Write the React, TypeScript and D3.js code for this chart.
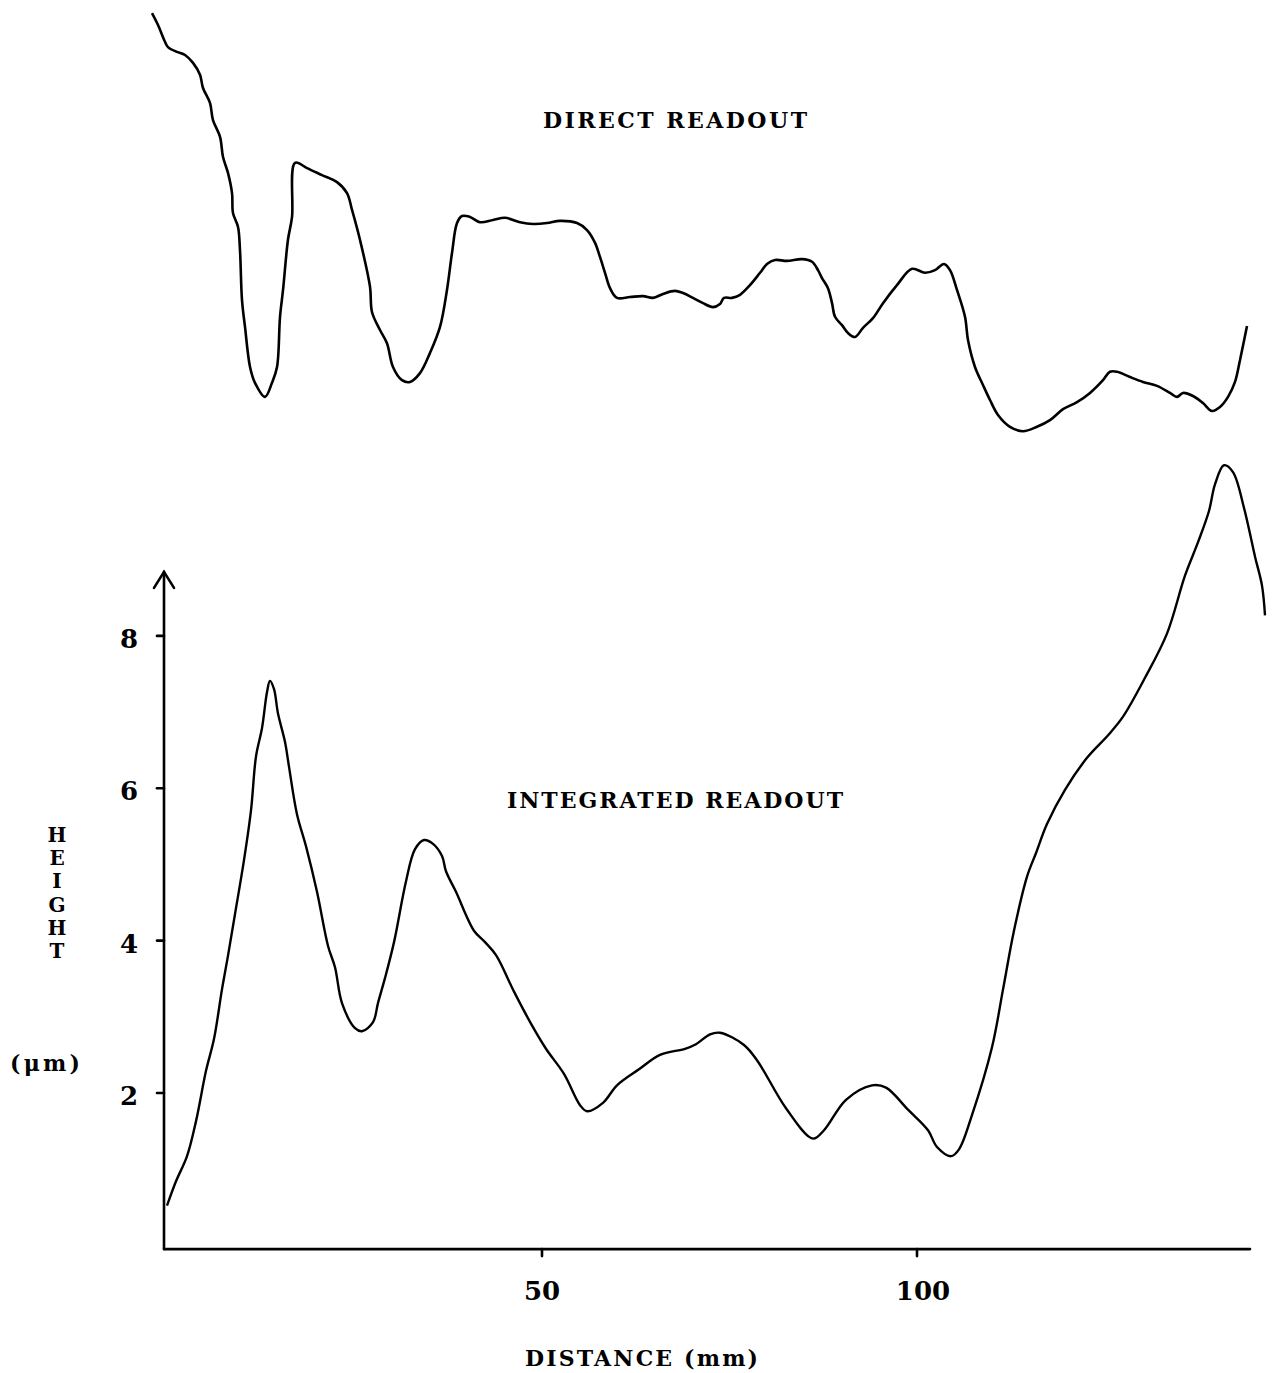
import React from "react";
import * as d3 from "d3";

// Distance (mm) values for the integrated readout curve
const integratedX = [
  0, 1.2, 2.67, 3.87, 5.2, 6.27, 7.33, 8.13, 9.07, 10.27, 11.2, 11.87, 12.67, 13.33, 13.73, 14.27, 14.8,
  15.73, 16.27, 17.33, 18.53, 20.0, 21.47, 22.4, 23.33, 25.07, 26.0, 27.47, 28.13, 29.07, 30.27, 31.87,
  33.07, 34.27, 35.47, 36.67, 37.2, 38.53, 40.93, 42.4, 43.87, 46.27, 48.53, 50.53, 52.93, 55.07, 56.0,
  58.13, 60.0, 62.93, 65.73, 69.07, 70.53, 72.4, 73.73, 76.93, 78.8, 82.53, 86.13, 87.6, 90.53, 94.0,
  95.87, 98.8, 101.47, 102.67, 104.53, 105.6, 107.33, 110.0, 111.47, 112.93, 114.67, 115.87, 117.33,
  119.73, 122.67, 125.6, 127.47, 130.4, 133.33, 135.73, 137.47, 138.93, 139.73, 140.93, 142.13, 143.6,
  145.07, 146.0, 146.4,
];
// Height (µm) values for the integrated readout curve
const integratedY = [
  0.52, 0.84, 1.17, 1.63, 2.29, 2.71, 3.36, 3.8, 4.35, 5.06, 5.71, 6.42, 6.79, 7.26, 7.41, 7.3, 6.98,
  6.61, 6.28, 5.66, 5.24, 4.64, 3.93, 3.65, 3.18, 2.85, 2.81, 2.93, 3.18, 3.51, 3.98, 4.78,
  5.2, 5.32, 5.27, 5.11, 4.91, 4.64, 4.13, 3.98, 3.81, 3.33, 2.91, 2.58, 2.25, 1.84, 1.76,
  1.87, 2.1, 2.31, 2.5, 2.58, 2.64, 2.77, 2.79, 2.63, 2.41, 1.8, 1.4, 1.51, 1.91, 2.1,
  2.07, 1.78, 1.51, 1.29, 1.17, 1.26, 1.71, 2.6, 3.36, 4.13, 4.84, 5.15, 5.53,
  5.98, 6.4, 6.71, 6.94, 7.45, 8.03, 8.79, 9.23, 9.64, 9.99, 10.24, 10.15, 9.68,
  9.04, 8.66, 8.27,
];

// Distance (mm) values for the direct readout curve
const directX = [
  -2.0, -1.2, -0.27, 0.13, 1.33, 2.4, 3.47, 4.4, 4.8, 5.73, 6.13, 7.07, 7.47, 8.13, 8.67, 8.8, 9.47, 9.73,
  10.0, 10.4, 11.07, 11.73, 13.07, 14.0, 14.67, 15.07, 15.47, 16.13, 16.67, 17.07, 18.67, 20.67, 22.67,
  24.0, 24.67, 25.73, 27.07, 27.33, 28.4, 29.33, 30.13, 31.33, 32.4, 33.73, 35.07, 36.4, 37.33, 38.0,
  38.67, 39.33, 40.4, 41.73, 43.47, 45.07, 47.07, 48.8, 50.67, 52.4, 54.67, 56.0, 57.07, 57.73, 58.4,
  59.07, 60.0, 61.73, 63.47, 64.8, 66.13, 67.73, 68.8, 70.13, 71.47, 72.8, 73.73, 74.27, 75.33, 76.4,
  77.73, 79.07, 80.0, 81.07, 82.67, 84.67, 86.0, 86.8, 87.33, 88.13, 88.67, 89.07, 90.0, 90.8, 91.73,
  92.8, 94.13, 95.47, 97.33, 99.33, 101.07, 102.4, 103.6, 104.4, 105.33, 106.4, 106.8, 107.73, 108.8,
  109.73, 110.8, 112.4, 114.13, 116.0, 117.73, 119.47, 121.33, 123.07, 124.8, 125.73, 126.67, 128.4,
  130.13, 132.0, 133.73, 134.67, 135.47, 136.8, 138.13, 139.33, 140.4, 141.47, 142.4, 143.07, 144.0,
];
// Direct readout signal (arbitrary units)
const directY = [
  9.7, 9.43, 9.05, 8.93, 8.82, 8.75, 8.57, 8.3, 8.0, 7.66, 7.27, 6.89, 6.43, 6.07, 5.61, 5.16, 4.84, 4.32,
  3.18, 2.57, 1.66, 1.3, 0.98, 1.3, 1.66, 2.8, 3.41, 4.55, 5.07, 6.3, 6.18, 6.02, 5.86,
  5.61, 5.23, 4.55, 3.48, 2.91, 2.5, 2.2, 1.66, 1.36, 1.32, 1.52, 1.98, 2.57, 3.41, 4.25,
  4.93, 5.09, 5.07, 4.95, 5.0, 5.05, 4.95, 4.91, 4.93, 4.98, 4.93, 4.77, 4.48, 4.16, 3.8,
  3.45, 3.23, 3.25, 3.27, 3.23, 3.32, 3.39, 3.34, 3.23, 3.11, 3.02, 3.09, 3.23, 3.23, 3.3,
  3.52, 3.8, 4.0, 4.09, 4.07, 4.11, 4.05, 3.86, 3.68, 3.45, 3.11, 2.8, 2.61, 2.43, 2.34,
  2.55, 2.77, 3.11, 3.52, 3.89, 3.8, 3.86, 4.0, 3.86, 3.41, 2.8, 2.27, 1.66, 1.25,
  0.91, 0.57, 0.3, 0.2, 0.3, 0.45, 0.7, 0.86, 1.07, 1.36, 1.55, 1.55, 1.43,
  1.32, 1.23, 1.07, 0.98, 1.07, 1.0, 0.84, 0.66, 0.75, 0.98, 1.32, 1.82, 2.59,
];

const xTicks = [50, 100];
const yTicks = [2, 4, 6, 8];
const yTitleLetters = ["H", "E", "I", "G", "H", "T"];

const W = 1272;
const H = 1373;
const FONT = "'DejaVu Serif', 'Liberation Serif', serif";

export default function App() {
  const x = d3.scaleLinear().domain([0, 100]).range([167, 917]);
  const y = d3.scaleLinear().domain([0, 8]).range([1245.3, 635.9]);
  const yDirect = d3.scaleLinear().domain([0, 10]).range([440, 0]);

  const integrated = integratedX.map((v, i) => [v, integratedY[i]] as [number, number]);
  const direct = directX.map((v, i) => [v, directY[i]] as [number, number]);

  const lineInt = d3
    .line<[number, number]>()
    .x((d) => x(d[0]))
    .y((d) => y(d[1]))
    .curve(d3.curveCatmullRom.alpha(0.5));
  const lineDir = d3
    .line<[number, number]>()
    .x((d) => x(d[0]))
    .y((d) => yDirect(d[1]))
    .curve(d3.curveCatmullRom.alpha(0.5));

  const axisX0 = x(-0.4);
  const axisX1 = x(144.4);
  const axisY = y(-0.05);
  const axisTop = y(8.84);

  return (
    <svg
      width={W}
      height={H}
      style={{ position: "absolute", left: 0, top: 0, background: "#fff" }}
    >
      <rect x={0} y={0} width={W} height={H} fill="#fff" />
      {/* axes */}
      <g stroke="#000" strokeWidth={2.6} fill="none" strokeLinecap="round">
        <line x1={axisX0} y1={axisY} x2={axisX1} y2={axisY} />
        <line x1={axisX0} y1={axisY} x2={axisX0} y2={axisTop} />
        <polyline
          points={`${axisX0 - 10},${axisTop + 16} ${axisX0},${axisTop} ${axisX0 + 10},${axisTop + 16}`}
          strokeLinejoin="miter"
        />
        {yTicks.map((t) => (
          <line key={"yt" + t} x1={axisX0 - 7} y1={y(t)} x2={axisX0} y2={y(t)} />
        ))}
        {xTicks.map((t) => (
          <line key={"xt" + t} x1={x(t)} y1={axisY} x2={x(t)} y2={axisY + 7} />
        ))}
      </g>

      {/* curves */}
      <path d={lineDir(direct) || ""} fill="none" stroke="#000" strokeWidth={2.6} strokeLinejoin="round" />
      <path d={lineInt(integrated) || ""} fill="none" stroke="#000" strokeWidth={2.4} strokeLinejoin="round" />

      {/* tick labels */}
      <g fontFamily={FONT} fontWeight="bold" fontSize={26} fill="#000">
        {yTicks.map((t) => (
          <text key={"yl" + t} x={129} y={y(t) + 12} textAnchor="middle">
            {t}
          </text>
        ))}
        {xTicks.map((t) => (
          <text key={"xl" + t} x={x(t) + (t >= 100 ? 6 : 0)} y={1300} textAnchor="middle">
            {t}
          </text>
        ))}
      </g>

      {/* titles */}
      <g fontFamily={FONT} fontWeight="bold" fontSize={22} fill="#000">
        <text x={543} y={128} textLength={264} lengthAdjust="spacing">
          DIRECT READOUT
        </text>
        <text x={507} y={808} textLength={336} lengthAdjust="spacing">
          INTEGRATED READOUT
        </text>
        <text x={525} y={1366} textLength={233} lengthAdjust="spacing">
          DISTANCE (mm)
        </text>
        <text x={10} y={1071} textLength={70} lengthAdjust="spacing">
          (μm)
        </text>
      </g>
      <g fontFamily={FONT} fontWeight="bold" fontSize={20} fill="#000">
        {yTitleLetters.map((c, i) => (
          <text key={"h" + i} x={57} y={842 + i * 23.2} textAnchor="middle">
            {c}
          </text>
        ))}
      </g>
    </svg>
  );
}
